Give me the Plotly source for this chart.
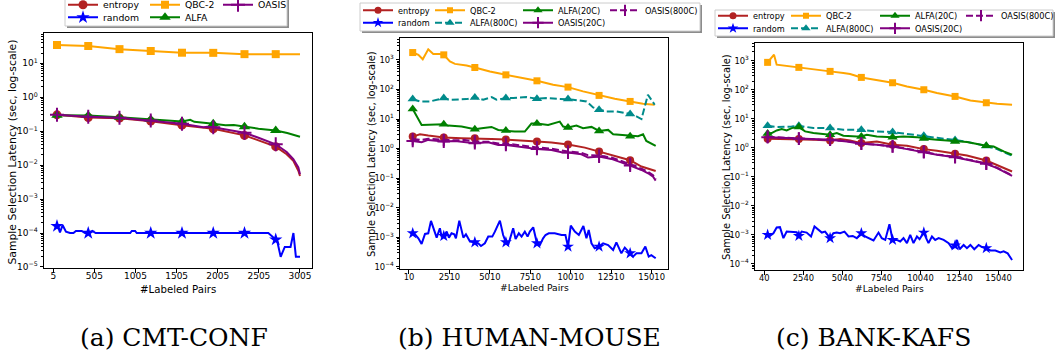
import plotly.graph_objects as go

W, H = 1056, 358

# ---------------- (a) CMT-CONF ----------------
marks_a = [50, 430, 810, 1190, 1570, 1950, 2330, 2710]
a_entropy_x = [50, 430, 810, 1190, 1570, 1950, 2330, 2500, 2710, 2843, 2924, 2985, 3005]
a_entropy_y = [0.302, 0.252, 0.241, 0.197, 0.150, 0.117, 0.075, 0.054, 0.035, 0.0209, 0.0133, 0.0068, 0.0048]
a_random_x = [50, 66, 86, 119, 159, 208, 250, 280, 350, 390, 430, 480, 520, 940, 960, 1000, 1020, 1190,
              1570, 1950, 2330, 2620, 2710, 2730, 2770, 2820, 2890, 2925, 2955, 3005]
a_random_y = [1.6e-4, 1.45e-4, 1.05e-4, 1.7e-4, 1.1e-4, 1.0e-4, 1.0e-4, 1.15e-4, 1.15e-4, 1.0e-4,
              1.0e-4, 1.15e-4, 1.0e-4, 1.0e-4, 1.15e-4, 1.15e-4, 1.0e-4, 1.0e-4, 1.0e-4, 1.0e-4,
              1.0e-4, 1.0e-4, 6.4e-5, 5.5e-5, 2.0e-5, 3.9e-5, 3.9e-5, 1.0e-4, 2.0e-5, 2.0e-5]
a_qbc_x = [50, 430, 810, 1190, 1570, 1950, 2330, 2710, 3005]
a_qbc_y = [34.4, 32.1, 26.0, 22.9, 20.4, 20.2, 18.5, 18.5, 18.3]
a_alfa_x = [50, 430, 810, 1190, 1570, 1670, 1720, 1950, 2100, 2200, 2330, 2500, 2710, 2850, 3005]
a_alfa_y = [0.295, 0.288, 0.258, 0.220, 0.193, 0.215, 0.188, 0.164, 0.150, 0.152, 0.134, 0.118, 0.105, 0.088, 0.0686]
a_oasis_x = [50, 430, 810, 1190, 1570, 1830, 1880, 1950, 2330, 2500, 2710, 2843, 2924, 2985, 3005]
a_oasis_y = [0.302, 0.264, 0.247, 0.206, 0.164, 0.130, 0.135, 0.131, 0.0898, 0.064, 0.041, 0.0244, 0.0149, 0.0085, 0.0054]
a_xticks = [5, 505, 1005, 1505, 2005, 2505, 3005]

# ---------------- (b) HUMAN-MOUSE ----------------
marks_b = [240, 2160, 4080, 6000, 7920, 9840, 11760, 13680]
b_entropy_x = [240, 690, 1200, 2160, 3260, 4080, 5110, 6000, 6970, 7920, 8820, 9840, 10880, 11760, 12730, 13680, 14380, 14790, 15260]
b_entropy_y = [2.55, 3.06, 2.76, 2.36, 2.24, 2.24, 2.13, 2.02, 1.82, 1.73, 1.60, 1.37, 1.08, 0.794, 0.538, 0.405, 0.247, 0.206, 0.176]
b_random_x = [240, 380, 590, 790, 1000, 1200, 1370, 1570, 1720, 1920, 2030, 2160, 2340, 2480, 2640, 2810, 2910,
              3120, 3370, 3530, 3780, 4080, 4290, 4460, 4700, 4910, 5160, 5320, 5630, 5830, 6000, 6140, 6310,
              6450, 6600, 6800, 6970, 7170, 7340, 7480, 7690, 7920, 8100, 8300, 8450, 8650, 9020, 9440, 9680,
              9840, 10010, 10260, 10510, 10790, 10980, 11120, 11290, 11490, 11760, 12010, 12320, 12630, 12830,
              13140, 13350, 13680, 13860, 14070, 14380, 14620, 14830, 14990, 15260]
b_random_y = [1.37e-3, 1.27e-3, 9.3e-4, 6.0e-4, 1.30e-3, 1.37e-3, 3.59e-3, 1.56e-3, 9.8e-4, 2.03e-3,
              1.06e-3, 1.11e-3, 1.56e-3, 9.8e-4, 1.37e-3, 1.27e-3, 9.3e-4, 3.68e-3, 9.8e-4, 1.27e-3,
              7.2e-4, 6.8e-4, 6.3e-4, 5.1e-4, 6.3e-4, 1.06e-3, 1.06e-3, 1.56e-3, 3.68e-3, 1.20e-3,
              6.8e-4, 5.5e-4, 1.06e-3, 2.03e-3, 8.8e-4, 1.37e-3, 1.06e-3, 1.56e-3, 1.06e-3, 1.56e-3,
              2.19e-3, 6.3e-4, 5.5e-4, 9.3e-4, 1.20e-3, 1.37e-3, 1.37e-3, 1.20e-3, 1.20e-3, 4.86e-4,
              2.50e-3, 1.56e-3, 1.20e-3, 2.43e-3, 9.3e-4, 1.78e-3, 6.3e-4, 4.27e-4, 4.86e-4, 6.3e-4,
              5.5e-4, 3.75e-4, 6.8e-4, 2.89e-4, 4.5e-4, 2.89e-4, 2.23e-4, 2.89e-4, 2.89e-4, 4.86e-4,
              2.23e-4, 2.5e-4, 1.96e-4]
b_qbc_x = [240, 590, 860, 1200, 1510, 1920, 2160, 2540, 2850, 3570, 4080, 5010, 6000, 7070, 7920, 8920, 9840,
           10770, 11760, 12730, 13680, 14470, 15200]
b_qbc_y = [1770, 1480, 1050, 2290, 1590, 1590, 1480, 880, 733, 644, 552, 404, 312, 241, 196, 144, 120, 86, 63,
           48.5, 39.4, 32.9, 30.4]
b_alfa800_x = [240, 690, 1310, 1720, 2160, 2540, 3570, 4080, 4600, 5120, 5420, 6000, 6450, 7280, 7920, 8510,
               9330, 9840, 10150, 10980, 11390, 11760, 12220, 12830, 13680, 14070, 14380, 14780, 15200]
b_alfa800_y = [47.2, 39.4, 39.4, 44.9, 51, 44.9, 47.2, 53.7, 44.9, 55.2, 44.9, 51, 51, 55.2, 48.5, 51, 47.2,
               47.2, 44.9, 39.4, 24.7, 20.7, 18.1, 18.1, 14.8, 12.3, 10, 66, 30.4]
b_alfa20_x = [240, 790, 2160, 2440, 3260, 4080, 4500, 5110, 5530, 6000, 6550, 7170, 7580, 7920, 8610, 9330, 9540,
              9840, 10360, 10770, 11290, 11760, 12320, 12630, 13140, 13680, 14170, 14480, 14680, 15260]
b_alfa20_y = [22.0, 6.34, 6.67, 6.0, 5.56, 4.52, 4.88, 5.42, 4.29, 4.07, 3.77, 3.77, 7.03, 7.03, 6.34, 8.21, 5.56,
              5.14, 6.0, 4.88, 5.42, 3.97, 4.29, 3.06, 2.90, 2.62, 2.62, 3.06, 1.82, 1.23]
b_oasis20_x = [240, 790, 1200, 2160, 2850, 3470, 4080, 4910, 5530, 6000, 6760, 7380, 7920, 8820, 9440, 9840,
               10670, 11080, 11760, 12520, 13140, 13680, 14380, 14790, 15100, 15260]
b_oasis20_y = [1.82, 1.64, 1.97, 1.73, 1.82, 1.64, 1.52, 1.64, 1.33, 1.33, 1.17, 1.08, 0.977, 0.904, 0.753, 0.734,
               0.645, 0.498, 0.538, 0.449, 0.346, 0.267, 0.190, 0.147, 0.113, 0.083]
b_oasis800_x = [240, 790, 1200, 2160, 2850, 3470, 4080, 4910, 5530, 6000, 6760, 7380, 7920, 8820, 9440, 9840,
                10670, 11080, 11760, 12520, 13140, 13680, 14380, 14790, 15100, 15260]
b_oasis800_y = [2.10, 1.95, 2.15, 1.95, 1.90, 1.95, 1.75, 1.70, 1.50, 1.48, 1.30, 1.20, 1.10, 1.00, 0.85, 0.80,
                0.72, 0.60, 0.58, 0.50, 0.38, 0.30, 0.21, 0.165, 0.125, 0.092]
b_xticks = [10, 2510, 5010, 7510, 10010, 12510, 15010]

# ---------------- (c) BANK-KAFS ----------------
marks_c = [250, 2250, 4250, 6250, 8250, 10250, 12250, 14250]
c_entropy_x = [250, 1250, 2250, 3250, 4250, 4890, 5530, 6250, 7240, 7670, 8250, 9170, 10250, 11090, 12250,
               13010, 14250, 14940, 15900]
c_entropy_y = [2.04, 2.0, 1.99, 1.9, 1.79, 1.99, 1.79, 1.45, 1.65, 1.45, 1.27, 1.17, 0.90, 0.788, 0.621, 0.544,
               0.366, 0.259, 0.153]
c_random_x = [250, 400, 620, 830, 1040, 1260, 1470, 1790, 2110, 2250, 2430, 2750, 3030, 3250, 3500, 3720, 3930,
              4140, 4250, 4460, 4680, 4890, 5170, 5430, 5700, 5960, 6250, 6490, 6810, 7030, 7350, 7560, 7780,
              8050, 8250, 8520, 8740, 8950, 9170, 9380, 9590, 9810, 9980, 10250, 10400, 10550, 10770, 10980,
              11200, 11520, 11840, 12050, 12250, 12370, 12540, 12800, 13010, 13230, 13480, 13760, 13970, 14250,
              14510, 14830, 15150, 15360, 15620, 15900]
c_random_y = [1.0e-3, 9.2e-4, 1.14e-3, 1.79e-3, 1.84e-3, 7.7e-4, 1.30e-3, 1.30e-3, 1.24e-3, 9.2e-4,
              1.30e-3, 1.20e-3, 8.8e-4, 1.94e-3, 1.49e-3, 1.20e-3, 1.30e-3, 8.8e-4, 7.7e-4, 1.14e-3,
              1.20e-3, 1.14e-3, 1.30e-3, 8.8e-4, 9.2e-4, 7.7e-4, 1.14e-3, 8.8e-4, 7.1e-4, 6.4e-4,
              1.20e-3, 7.7e-4, 6.7e-4, 2.33e-3, 6.7e-4, 6.7e-4, 5.9e-4, 7.7e-4, 5.2e-4, 1.0e-3,
              5.2e-4, 8.8e-4, 7.1e-4, 1.20e-3, 7.7e-4, 5.2e-4, 8.8e-4, 6.7e-4, 7.7e-4, 6.7e-4,
              5.2e-4, 3.5e-4, 4.3e-4, 6.7e-4, 3.2e-4, 4.5e-4, 3.5e-4, 4.5e-4, 3.2e-4, 4.5e-4,
              3.8e-4, 3.5e-4, 2.9e-4, 2.9e-4, 2.5e-4, 2.7e-4, 2.3e-4, 1.37e-4]
c_qbc_x = [250, 660, 830, 2250, 3400, 4250, 5100, 5530, 6250, 7240, 8250, 9170, 10250, 11090, 12250, 13230,
           14250, 14940, 15900]
c_qbc_y = [877, 1612, 728, 589, 516, 429, 376, 347, 266, 221, 174, 130, 100, 76.7, 58.9, 42.9, 35.6, 32.9, 30.4]
c_alfa800_x = [250, 830, 1790, 2250, 3180, 4250, 5100, 6250, 7240, 8250, 9170, 10250, 11090, 12250, 13010,
               14250, 14940, 15900]
c_alfa800_y = [5.74, 5.16, 5.4, 5.74, 4.77, 4.77, 4.18, 4.18, 3.66, 3.47, 3.0, 2.6, 2.2, 1.85, 1.6, 1.15,
               0.90, 0.53]
c_alfa20_x = [250, 510, 830, 1150, 1470, 1790, 2250, 2650, 3180, 4040, 4250, 4680, 5100, 5960, 6250, 6600, 7240,
              8250, 8950, 9810, 10250, 11090, 12250, 13010, 14250, 14720, 15360, 15900]
c_alfa20_y = [3.1, 3.21, 3.97, 4.41, 3.97, 4.77, 5.16, 3.66, 3.21, 2.80, 2.80, 3.21, 2.59, 2.46, 2.46, 2.80, 2.46,
              2.33, 2.46, 2.33, 2.10, 1.89, 1.65, 1.57, 1.17, 1.11, 0.748, 0.574]
c_oasis20_x = [250, 1260, 2250, 3180, 4250, 5320, 6250, 7240, 8250, 9170, 10250, 11090, 12250, 13010, 14250,
               14940, 15900]
c_oasis20_y = [2.33, 2.21, 2.04, 1.99, 1.89, 1.65, 1.37, 1.27, 1.11, 0.90, 0.709, 0.574, 0.476, 0.386, 0.281,
               0.199, 0.108]
c_oasis800_x = [250, 1260, 2250, 3180, 4250, 5320, 6250, 7240, 8250, 9170, 10250, 11090, 12250, 13010, 14250,
                14940, 15900]
c_oasis800_y = [2.40, 2.25, 2.10, 2.0, 1.92, 1.70, 1.42, 1.30, 1.13, 0.93, 0.73, 0.59, 0.49, 0.40, 0.29, 0.205,
                0.112]
c_xticks = [40, 2540, 5040, 7540, 10040, 12540, 15040]

captions = ["(a) CMT-CONF", "(b) HUMAN-MOUSE", "(c) BANK-KAFS"]
y_title = "Sample Selection Latency (sec, log-scale)"
x_title = "#Labeled Pairs"

# ---------------- styles ----------------
STYLE = {
    "entropy": dict(color="#B22222", symbol="circle", dash="solid"),
    "random": dict(color="#0000FF", symbol="star", dash="solid"),
    "QBC-2": dict(color="#FFA500", symbol="square", dash="solid"),
    "ALFA": dict(color="#008000", symbol="triangle-up", dash="solid"),
    "ALFA(20C)": dict(color="#008000", symbol="triangle-up", dash="solid"),
    "ALFA(800C)": dict(color="#008B8B", symbol="triangle-up", dash="7px,3px"),
    "OASIS": dict(color="#800080", symbol="cross-thin", dash="solid"),
    "OASIS(20C)": dict(color="#800080", symbol="cross-thin", dash="solid"),
    "OASIS(800C)": dict(color="#800080", symbol="line-ns", dash="7px,3px"),
}
SIZE_ADJ = {"circle": 0, "square": -1, "triangle-up": 1, "star": 1, "cross-thin": 1, "line-ns": 1}

fig = go.Figure()
legend_counter = [0]
legend_layouts = {}


def marker_dict(name, size):
    st = STYLE[name]
    s = size + SIZE_ADJ[st["symbol"]]
    if st["symbol"] in ("cross-thin", "line-ns"):
        return dict(symbol=st["symbol"], size=s, color=st["color"], line=dict(color=st["color"], width=2))
    return dict(symbol=st["symbol"], size=s, color=st["color"], line=dict(width=0))


def add_series(name, xs, ys, marks, ax, msize):
    st = STYLE[name]
    xa, ya = ("x", "y") if ax == 1 else ("x%d" % ax, "y%d" % ax)
    fig.add_trace(go.Scatter(x=xs, y=ys, mode="lines", xaxis=xa, yaxis=ya, showlegend=False,
                             line=dict(color=st["color"], width=2, dash=st["dash"]), hoverinfo="skip"))
    mx = [x for x in xs if x in marks]
    my = [y for x, y in zip(xs, ys) if x in marks]
    fig.add_trace(go.Scatter(x=mx, y=my, mode="markers", xaxis=xa, yaxis=ya, showlegend=False,
                             marker=marker_dict(name, msize), hoverinfo="skip"))


def add_legend_entry(name, ax, text_px, row_py, fsize, msize):
    st = STYLE[name]
    legend_counter[0] += 1
    lid = "legend" if legend_counter[0] == 1 else "legend%d" % legend_counter[0]
    xa, ya = ("x", "y") if ax == 1 else ("x%d" % ax, "y%d" % ax)
    fig.add_trace(go.Scatter(x=[None], y=[None], mode="lines+markers", name=name, xaxis=xa, yaxis=ya,
                             legend=lid, showlegend=True,
                             line=dict(color=st["color"], width=2, dash=st["dash"]),
                             marker=marker_dict(name, msize)))
    legend_layouts[lid] = dict(x=(text_px - 37) / W, y=1 - row_py / H, xanchor="left", yanchor="middle",
                               bgcolor="rgba(0,0,0,0)", borderwidth=0,
                               font=dict(family="DejaVu Sans", size=fsize, color="black"))


# panel (a)
add_series("entropy", a_entropy_x, a_entropy_y, marks_a, 1, 9)
add_series("random", a_random_x, a_random_y, marks_a, 1, 9)
add_series("QBC-2", a_qbc_x, a_qbc_y, marks_a, 1, 9)
add_series("ALFA", a_alfa_x, a_alfa_y, marks_a, 1, 9)
add_series("OASIS", a_oasis_x, a_oasis_y, marks_a, 1, 9)
# panel (b)
add_series("entropy", b_entropy_x, b_entropy_y, marks_b, 2, 8)
add_series("random", b_random_x, b_random_y, marks_b, 2, 8)
add_series("QBC-2", b_qbc_x, b_qbc_y, marks_b, 2, 8)
add_series("ALFA(800C)", b_alfa800_x, b_alfa800_y, marks_b, 2, 8)
add_series("ALFA(20C)", b_alfa20_x, b_alfa20_y, marks_b, 2, 8)
add_series("OASIS(20C)", b_oasis20_x, b_oasis20_y, marks_b, 2, 8)
add_series("OASIS(800C)", b_oasis800_x, b_oasis800_y, marks_b, 2, 8)
# panel (c)
add_series("entropy", c_entropy_x, c_entropy_y, marks_c, 3, 8)
add_series("random", c_random_x, c_random_y, marks_c, 3, 8)
add_series("QBC-2", c_qbc_x, c_qbc_y, marks_c, 3, 8)
add_series("ALFA(800C)", c_alfa800_x, c_alfa800_y, marks_c, 3, 8)
add_series("ALFA(20C)", c_alfa20_x, c_alfa20_y, marks_c, 3, 8)
add_series("OASIS(20C)", c_oasis20_x, c_oasis20_y, marks_c, 3, 8)
add_series("OASIS(800C)", c_oasis800_x, c_oasis800_y, marks_c, 3, 8)

# legends (one per entry, laid out in matplotlib-like columns)
for name, tx, py in [("entropy", 100, 4.8), ("random", 100, 17.3), ("QBC-2", 182, 4.8),
                     ("ALFA", 182, 17.3), ("OASIS", 255, 4.8)]:
    add_legend_entry(name, 1, tx, py, 9.3, 9)
for ax, r1, r2, cols in [(2, 10.3, 22.7, [395, 467, 555, 642]), (3, 15.7, 28.3, [750, 823, 912, 998])]:
    entries = [("entropy", cols[0], r1), ("random", cols[0], r2), ("QBC-2", cols[1], r1),
               ("ALFA(800C)", cols[1], r2), ("ALFA(20C)", cols[2], r1), ("OASIS(20C)", cols[2], r2),
               ("OASIS(800C)", cols[3], r1)]
    for name, tx, py in entries:
        add_legend_entry(name, ax, tx, py, 8.2, 7)

# ---------------- axes ----------------
def sup_label(k):
    return "10<sup>%s</sup>" % (str(k).replace("-", "\u2212"))


minor_vals = [m * 10.0 ** k for k in range(-6, 5) for m in range(2, 10)]

panels = [
    (1, (44, 312), (33, 268), [-5.03, 1.89], a_xticks, range(-5, 2), 9, [-108, 3151]),
    (2, (400, 668), (38, 269), [-4.07, 3.74], b_xticks, range(-4, 4), 8.4, [-546, 16021]),
    (3, (755, 1023), (43, 270), [-4.21, 3.61], c_xticks, range(-4, 4), 8.4, [-558, 16600]),
]
layout_axes = {}
for idx, (x0, x1), (yt, yb), yr, xt, yexp, tf, xr in panels:
    sfx = "" if idx == 1 else str(idx)
    layout_axes["xaxis" + sfx] = dict(
        domain=[x0 / W, x1 / W], range=xr, anchor="y" + sfx, tickmode="array", tickvals=xt,
        ticktext=[str(v) for v in xt], ticks="outside", ticklen=3.5, tickwidth=1, tickcolor="black",
        ticklabelstandoff=-4,
        showline=True, mirror=True, linecolor="black", linewidth=1, showgrid=False, zeroline=False,
        tickfont=dict(family="DejaVu Sans", size=tf, color="black"))
    yvals = [10.0 ** k for k in yexp]
    layout_axes["yaxis" + sfx] = dict(
        domain=[1 - yb / H, 1 - yt / H], type="log", range=yr, anchor="x" + sfx, tickmode="array",
        tickvals=yvals, ticktext=[sup_label(k) for k in yexp], ticks="outside", ticklen=3.5, tickwidth=1,
        tickcolor="black", showline=True, mirror=True, linecolor="black", linewidth=1, showgrid=False,
        zeroline=False, tickfont=dict(family="DejaVu Sans", size=tf, color="black"),
        minor=dict(tickmode="array", tickvals=minor_vals, ticks="outside", ticklen=2, tickwidth=0.6,
                   tickcolor="black", showgrid=False))

# ---------------- annotations ----------------
ann = []
for cx, cy, fs in [(178, 289, 10.2), (534, 287, 9.2), (889, 288, 9.2)]:
    ann.append(dict(text=x_title, x=cx / W, y=1 - cy / H, xref="paper", yref="paper", showarrow=False,
                    xanchor="center", yanchor="middle", font=dict(family="DejaVu Sans", size=fs, color="black")))
for cx, cy, fs in [(11.5, 152, 10.8), (371, 154, 9.9), (726, 157, 9.9)]:
    ann.append(dict(text=y_title, x=cx / W, y=1 - cy / H, xref="paper", yref="paper", showarrow=False,
                    textangle=-90, xanchor="center", yanchor="middle",
                    font=dict(family="DejaVu Sans", size=fs, color="black")))
for txt, cx in zip(captions, [174, 529, 873.5]):
    ann.append(dict(text=txt, x=cx / W, y=1 - 337 / H, xref="paper", yref="paper", showarrow=False,
                    xanchor="center", yanchor="middle",
                    font=dict(family="DejaVu Serif", size=25, color="black")))

# legend frames (with matplotlib-like shadow)
shapes = []
for (bx0, by0, bx1, by1) in [(65, -4, 287, 26), (360, 3, 700, 31), (715, 10, 1053, 36)]:
    shapes.append(dict(type="rect", xref="paper", yref="paper", x0=(bx0 + 2) / W, x1=(bx1 + 2) / W,
                       y0=1 - (by1 + 2) / H, y1=1 - (by0 + 2) / H, fillcolor="rgba(0,0,0,0.45)",
                       line=dict(width=0), layer="above"))
    shapes.append(dict(type="rect", xref="paper", yref="paper", x0=bx0 / W, x1=bx1 / W,
                       y0=1 - by1 / H, y1=1 - by0 / H, fillcolor="white",
                       line=dict(color="#cccccc", width=1), layer="above"))

fig.update_layout(
    width=W, height=H, autosize=False,
    margin=dict(l=0, r=0, t=0, b=0, autoexpand=False),
    paper_bgcolor="white", plot_bgcolor="white",
    font=dict(family="DejaVu Sans", color="black"),
    annotations=ann, shapes=shapes, hovermode=False,
    **layout_axes, **legend_layouts)

fig.write_html("out.html")
